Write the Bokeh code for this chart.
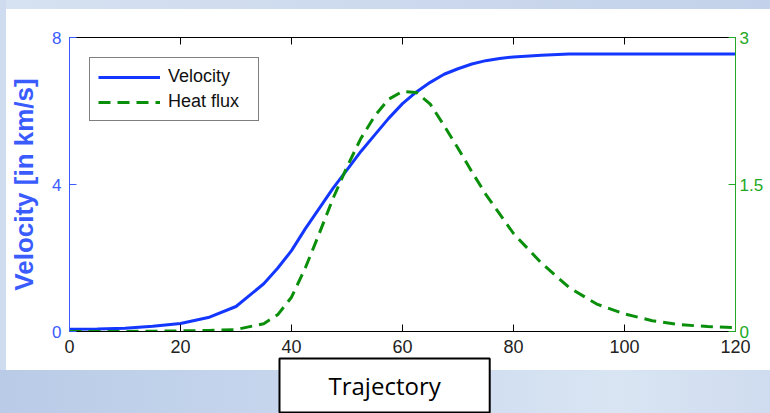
from bokeh.plotting import figure
from bokeh.models import (Range1d, LinearAxis, FixedTicker, Legend, LegendItem, Title)
from bokeh.embed import file_html
from bokeh.resources import INLINE

# ---- data ----
trajectory = [0, 5, 10, 15, 20, 25, 30, 35, 37.5, 40, 42.5, 45, 47.5, 50, 52.5,
              55, 57.5, 60, 62.5, 65, 67.5, 70, 72.5, 75, 77.5, 80, 85, 90, 95,
              100, 105, 110, 115, 120]
velocity = [0.06, 0.07, 0.09, 0.14, 0.22, 0.38, 0.68, 1.3, 1.72, 2.2, 2.8, 3.35,
            3.9, 4.4, 4.9, 5.35, 5.8, 6.2, 6.52, 6.78, 7.0, 7.15, 7.28, 7.37,
            7.43, 7.47, 7.52, 7.55, 7.55, 7.55, 7.55, 7.55, 7.55, 7.55]
heat_flux = [0.0, 0.0, 0.0, 0.003, 0.006, 0.01, 0.02, 0.08, 0.17, 0.35, 0.65, 1.0,
             1.36, 1.68, 1.97, 2.2, 2.37, 2.45, 2.44, 2.32, 2.1, 1.87, 1.63, 1.4,
             1.2, 1.0, 0.7, 0.45, 0.28, 0.18, 0.11, 0.07, 0.05, 0.04]
x_ticks = [0, 20, 40, 60, 80, 100, 120]
v_ticks = [0, 4, 8]
h_ticks = [0, 1.5, 3]

BLUE = "#1437ff"
AXBLUE = "#3a5cff"
GREEN = "#0a8f0a"
AXGREEN = "#22a822"
FONT = "Liberation Sans"

p = figure(width=770, height=413, output_backend="svg", toolbar_location=None,
           x_range=Range1d(0, 120), y_range=Range1d(0, 8),
           min_border_left=69, min_border_right=35, min_border_top=37,
           min_border_bottom=82, x_axis_location=None, y_axis_location=None)
p.extra_y_ranges = {"heat": Range1d(0, 3)}
p.outline_line_color = None
p.grid.visible = False
p.background_fill_color = "white"
p.border_fill_color = None
p.styles = {
    "background": (
        "linear-gradient(to right, #b9cbe7, #c9d8ee 45%, #d9e5f3 80%, #cfdcef) 0 370px / 100% 43px no-repeat, "
        "linear-gradient(#cfdcef, #cfdcef) 0 0 / 6px 100% no-repeat, "
        "linear-gradient(to right, #d6e2f1, #c3d1ea) 0 0 / 100% 9px no-repeat, "
        "white"
    )
}

def style(ax, color, labcolor, size="17px"):
    ax.axis_line_color = color
    ax.major_tick_line_color = color
    ax.major_tick_in = 7
    ax.major_tick_out = 0
    ax.minor_tick_line_color = None
    ax.major_label_text_color = labcolor
    ax.major_label_text_font = FONT
    ax.major_label_text_font_size = size

xb = LinearAxis(ticker=FixedTicker(ticks=x_ticks))
style(xb, "black", "#222222", "18px")
xb.major_label_standoff = 8
p.add_layout(xb, "below")

xt = LinearAxis(ticker=FixedTicker(ticks=x_ticks))
style(xt, "black", None)
p.add_layout(xt, "above")

yl = LinearAxis(ticker=FixedTicker(ticks=v_ticks), axis_label="Velocity [in km/s]")
style(yl, AXBLUE, AXBLUE)
yl.major_label_standoff = 8
yl.axis_label_standoff = 10
yl.axis_label_text_color = AXBLUE
yl.axis_label_text_font = FONT
yl.axis_label_text_font_style = "bold"
yl.axis_label_text_font_size = "26px"
p.add_layout(yl, "left")

yr = LinearAxis(ticker=FixedTicker(ticks=h_ticks), y_range_name="heat")
style(yr, AXGREEN, AXGREEN)
yr.major_label_standoff = 4
p.add_layout(yr, "right")

r_v = p.line(trajectory, velocity, line_color=BLUE, line_width=3)
r_h = p.line(trajectory, heat_flux, y_range_name="heat", line_color=GREEN,
             line_width=3, line_dash="12 7")

legend = Legend(items=[LegendItem(label="Velocity", renderers=[r_v]),
                       LegendItem(label="Heat flux", renderers=[r_h])],
                location="top_left", margin=20, padding=8, spacing=4,
                glyph_width=62, glyph_height=20, label_height=20,
                label_width=82, label_standoff=8, label_text_font=FONT,
                label_text_font_size="18px", label_text_color="#111111",
                border_line_color="black", border_line_width=1,
                background_fill_color="white", background_fill_alpha=1)
p.add_layout(legend)

caption = Title(text="Trajectory", align="left", offset=210, standoff=2,
                text_font="Open Sans", text_font_size="24px", text_font_style="normal",
                text_line_height=1.0,
                text_color="black", background_fill_color="white",
                border_line_color="black", border_line_width=2,
                padding=dict(left=49, right=49, top=10, bottom=11))
p.add_layout(caption, "below")

open("out.html", "w").write(file_html(p, INLINE))
